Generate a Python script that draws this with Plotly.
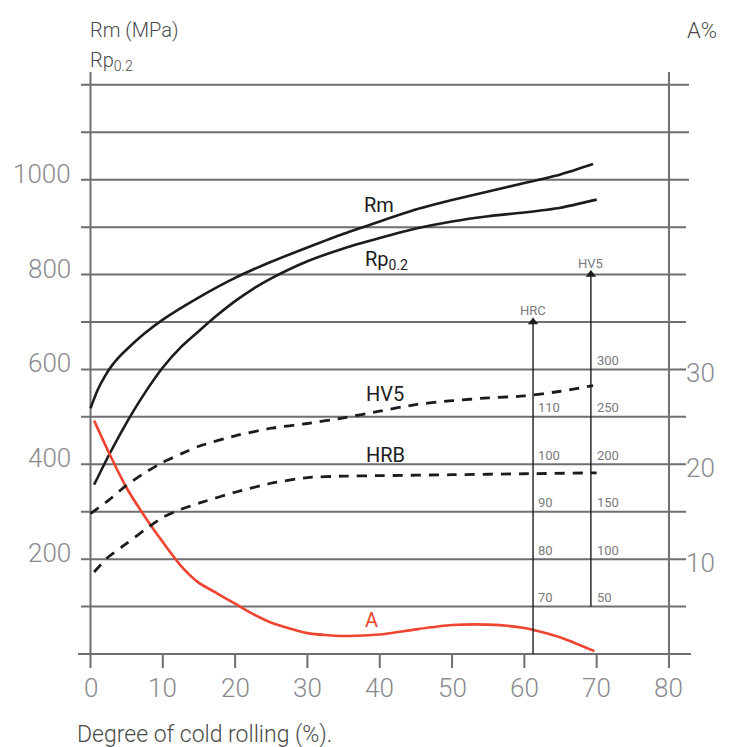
import plotly.graph_objects as go

# ---------------- data ----------------
x_rm = [0, 1, 2, 3, 4, 5, 7.5, 10, 15, 20, 25, 30, 35, 40, 45, 50, 55, 60, 65, 69.5]
rm = [518, 557, 586, 609, 627, 642, 676, 705, 752, 793, 827, 857, 886, 912, 937, 957, 975, 993, 1011, 1033]

x_rp = [0.5, 2.5, 5, 7.5, 10, 12.5, 15, 17.5, 20, 22.5, 25, 30, 35, 40, 45, 50, 55, 60, 65, 70]
rp = [357, 418, 488, 550, 604, 647, 681, 714, 744, 770, 792, 828, 855, 877, 897, 912, 923, 931, 941, 958]

x_hv5 = [0, 2.5, 5, 7.5, 10, 12.5, 15, 20, 25, 30, 35, 40, 45, 50, 55, 60, 65, 69.5]
hv5 = [148, 162, 178, 191, 202, 211, 219, 230, 238, 243, 249, 256, 263, 267, 270, 272, 277, 283]

x_hrb = [0.5, 2.5, 5, 7.5, 10, 12.5, 15, 20, 25, 30, 35, 40, 50, 60, 70]
hrb = [77.3, 80.5, 83.3, 86.2, 88.8, 90.5, 91.8, 94.1, 96, 97.2, 97.5, 97.6, 97.8, 98, 98.2]

x_a = [0.5, 2.5, 5, 7.5, 10, 12.5, 15, 17.5, 20, 22.5, 25, 30, 35, 40, 45, 50, 55, 60, 65, 69.7]
a_pct = [24.6, 21.3, 17.5, 14.5, 11.8, 9.3, 7.5, 6.4, 5.3, 4.2, 3.3, 2.2, 1.9, 2.05, 2.6, 3.05, 3.1, 2.75, 1.75, 0.3]

x_ticks = [0, 10, 20, 30, 40, 50, 60, 70, 80]
mpa_ticks = [200, 400, 600, 800, 1000]
grid_mpa = [100, 200, 300, 400, 500, 600, 700, 800, 900, 1000, 1100, 1200]
a_ticks = [10, 20, 30]
hrc_ticks = [70, 80, 90, 100, 110]
hv5_ticks = [50, 100, 150, 200, 250, 300]
hrc_arrow_x = 61.2
hrc_arrow = [60, 130]
hv5_arrow_x = 69.2
hv5_arrow = [50, 400]

# ---------------- geometry (reference page pixels) ----------------
OFF = 8                      # default page margin of the html body
W, H = 734 - OFF, 747 - OFF
PX0, PXU = 90.5, 7.231       # page pixel of x=0, px per unit
PY0, PYU = 654.0, 0.4743     # page pixel of 0 MPa, px per MPa
xr = [(OFF - PX0) / PXU, (OFF + W - PX0) / PXU]
yr = [(PY0 - (OFF + H)) / PYU, (PY0 - OFF) / PYU]


def xp(px):
    return (px - PX0) / PXU


def yp(py):
    return (PY0 - py) / PYU


def paper_x(px):
    return (px - OFF) / W


def paper_y(py):
    return 1 - (py - OFF) / H


GRID = "#6e6e73"
TICK = "#8a8a8e"
DARK = "#1c1c1c"
RED = "#ee4430"
FONT = "Roboto"

fig = go.Figure()
sp = dict(shape="spline", smoothing=0.6)
fig.add_trace(go.Scatter(x=x_rm, y=rm, mode="lines", line=dict(color=DARK, width=2.6, **sp), yaxis="y"))
fig.add_trace(go.Scatter(x=x_rp, y=rp, mode="lines", line=dict(color=DARK, width=2.6, **sp), yaxis="y"))
fig.add_trace(go.Scatter(x=x_hv5, y=hv5, mode="lines", line=dict(color=DARK, width=2.8, dash="10px,8px", **sp), yaxis="y3"))
fig.add_trace(go.Scatter(x=x_hrb, y=hrb, mode="lines", line=dict(color=DARK, width=2.8, dash="10px,8px", **sp), yaxis="y4"))
fig.add_trace(go.Scatter(x=x_a, y=a_pct, mode="lines", line=dict(color=RED, width=2.6, **sp), yaxis="y2"))
# hardness scale lines with arrow heads
fig.add_trace(go.Scatter(x=[hrc_arrow_x, hrc_arrow_x], y=hrc_arrow, mode="lines",
                         line=dict(color=DARK, width=1.4), yaxis="y4"))
fig.add_trace(go.Scatter(x=[hrc_arrow_x], y=[hrc_arrow[1]], mode="markers", yaxis="y4",
                         marker=dict(symbol="triangle-up", size=9, color=DARK, line=dict(width=0))))
fig.add_trace(go.Scatter(x=[hv5_arrow_x, hv5_arrow_x], y=hv5_arrow, mode="lines",
                         line=dict(color=DARK, width=1.4), yaxis="y3"))
fig.add_trace(go.Scatter(x=[hv5_arrow_x], y=[hv5_arrow[1]], mode="markers", yaxis="y3",
                         marker=dict(symbol="triangle-up", size=9, color=DARK, line=dict(width=0))))

shapes = []
for v in grid_mpa:
    x1 = xp(689) if v >= 1000 else xp(686)
    shapes.append(dict(type="line", xref="x", yref="y", x0=xp(81), x1=x1, y0=v, y1=v,
                       line=dict(color=GRID, width=2), layer="below"))
shapes.append(dict(type="line", xref="x", yref="y", x0=xp(78), x1=xp(691), y0=0, y1=0,
                   line=dict(color=GRID, width=2), layer="below"))
for xv in (x_ticks[0], x_ticks[-1]):
    shapes.append(dict(type="line", xref="x", yref="y", x0=xv, x1=xv, y0=yp(668), y1=yp(72),
                       line=dict(color=GRID, width=2), layer="below"))
for xv in x_ticks[1:-1]:
    shapes.append(dict(type="line", xref="x", yref="y", x0=xv, x1=xv, y0=0, y1=yp(668),
                       line=dict(color=GRID, width=2), layer="below"))

ann = []
tick_font = dict(family=FONT, size=26, color=TICK, weight=300)
for xv in x_ticks:
    ann.append(dict(x=xv, y=yp(688), xref="x", yref="y", text=str(xv), showarrow=False,
                    font=tick_font, xanchor="center", yanchor="middle"))
for v in mpa_ticks:
    ann.append(dict(x=xp(73), y=v, xref="x", yref="y", text=str(v), showarrow=False, yshift=6,
                    font=tick_font, xanchor="right", yanchor="middle"))
for v in a_ticks:
    ann.append(dict(x=xp(684), y=v, xref="x", yref="y2", text=str(v), showarrow=False, yshift=-4,
                    font=tick_font, xanchor="left", yanchor="middle"))
small = dict(family=FONT, size=13, color="#7a7a7e")
for v in hrc_ticks:
    ann.append(dict(x=hrc_arrow_x, y=v, xref="x", yref="y4", text=str(v), showarrow=False, yshift=9, xshift=3,
                    font=small, xanchor="left", yanchor="middle"))
for v in hv5_ticks:
    ann.append(dict(x=hv5_arrow_x, y=v, xref="x", yref="y3", text=str(v), showarrow=False, yshift=9, xshift=4,
                    font=small, xanchor="left", yanchor="middle"))
ann.append(dict(x=hrc_arrow_x, y=hrc_arrow[1], xref="x", yref="y4", text="HRC", showarrow=False, yshift=11,
                font=small, xanchor="center", yanchor="middle"))
ann.append(dict(x=hv5_arrow_x, y=hv5_arrow[1], xref="x", yref="y3", text="HV5", showarrow=False, yshift=11,
                font=small, xanchor="center", yanchor="middle"))
# curve labels
lab_font = dict(family=FONT, size=20, color=DARK)
ann.append(dict(x=xp(379), y=yp(205), xref="x", yref="y", text="Rm", showarrow=False, font=lab_font))
ann.append(dict(x=xp(386), y=yp(260), xref="x", yref="y", text="Rp<sub>0.2</sub>", showarrow=False, font=lab_font))
ann.append(dict(x=xp(385), y=yp(394), xref="x", yref="y", text="HV5", showarrow=False, font=lab_font))
ann.append(dict(x=xp(385), y=yp(455), xref="x", yref="y", text="HRB", showarrow=False, font=lab_font))
ann.append(dict(x=xp(371), y=yp(620), xref="x", yref="y", text="A", showarrow=False,
                font=dict(family=FONT, size=20, color=RED)))
# titles
tfont = dict(family=FONT, size=20, color="#4a4a4a", weight=300)
ann.append(dict(x=paper_x(88), y=paper_y(30), xref="paper", yref="paper", text="Rm (MPa)", showarrow=False,
                font=tfont, xanchor="left", yanchor="middle"))
ann.append(dict(x=paper_x(88), y=paper_y(61), xref="paper", yref="paper", text="Rp<sub>0.2</sub>", showarrow=False,
                font=tfont, xanchor="left", yanchor="middle"))
ann.append(dict(x=paper_x(719), y=paper_y(30), xref="paper", yref="paper", text="A%", showarrow=False,
                font=dict(family=FONT, size=22, color="#4a4a4a", weight=300), xanchor="right", yanchor="middle"))
ann.append(dict(x=paper_x(75), y=paper_y(734), xref="paper", yref="paper", text="Degree of cold rolling (%).",
                showarrow=False, font=dict(family=FONT, size=23, color="#4a4a4a", weight=300),
                xanchor="left", yanchor="middle"))

hidden = dict(visible=False, showgrid=False, zeroline=False, fixedrange=True)
fig.update_layout(
    width=W, height=H, autosize=False,
    margin=dict(l=0, r=0, t=0, b=0, pad=0),
    paper_bgcolor="white", plot_bgcolor="white",
    showlegend=False,
    xaxis=dict(range=xr, **hidden),
    yaxis=dict(range=yr, **hidden),
    yaxis2=dict(range=[v / 20 for v in yr], overlaying="y", **hidden),
    yaxis3=dict(range=[v / 2 for v in yr], overlaying="y", **hidden),
    yaxis4=dict(range=[60 + v / 10 for v in yr], overlaying="y", **hidden),
    shapes=shapes,
    annotations=ann,
)

fig.write_html("out.html")
